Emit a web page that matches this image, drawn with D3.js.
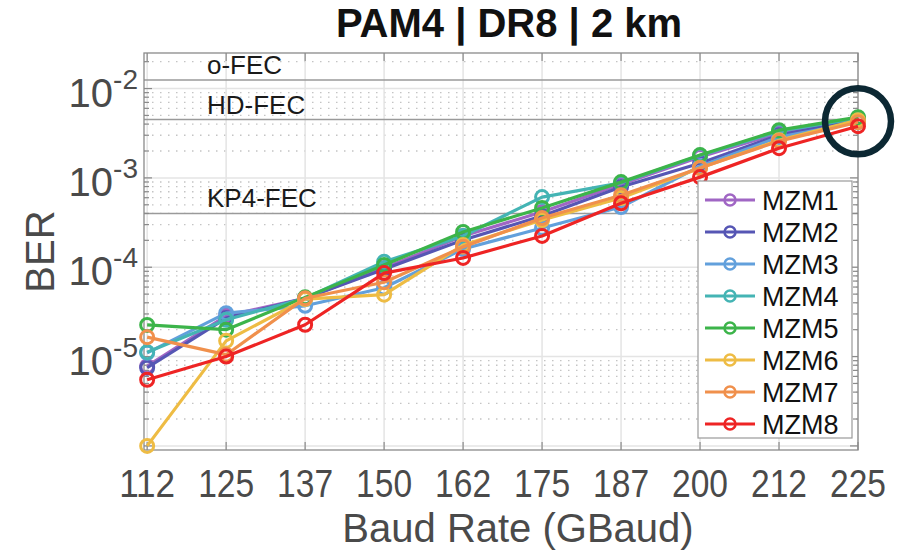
<!DOCTYPE html>
<html>
<head>
<meta charset="utf-8">
<script src="https://cdn.jsdelivr.net/npm/d3@7"></script>
<style>
  body { margin: 0; background: #fff; }
  svg { display: block; font-family: "Liberation Sans", Arial, sans-serif; }
</style>
</head>
<body>
<div id="chart"></div>
<script>
// baud rates (GBaud) and their tick labels
const baudRates = [112.5, 125, 137.5, 150, 162.5, 175, 187.5, 200, 212.5, 225];
const baudLabels = ["112", "125", "137", "150", "162", "175", "187", "200", "212", "225"];

// BER per modulator
const mzm1 = [7.8e-6, 2.86e-5, 4.5e-5, 9.8e-5, 2.24e-4, 4.15e-4, 8.5e-4, 1.71e-3, 3.17e-3, 4.54e-3];
const mzm2 = [7.5e-6, 2.7e-5, 4.5e-5, 9.5e-5, 2.02e-4, 3.74e-4, 7.9e-4, 1.46e-3, 3.01e-3, 4.43e-3];
const mzm3 = [1.1e-5, 3.06e-5, 3.7e-5, 5.9e-5, 1.6e-4, 2.75e-4, 4.72e-4, 1.35e-3, 2.86e-3, 4.2e-3];
const mzm4 = [1.12e-5, 2.58e-5, 4.5e-5, 1.15e-4, 2.24e-4, 6.1e-4, 8.8e-4, 1.78e-3, 3.33e-3, 4.66e-3];
const mzm5 = [2.26e-5, 2.0e-5, 4.6e-5, 1.06e-4, 2.48e-4, 4.6e-4, 8.97e-4, 1.8e-3, 3.42e-3, 4.78e-3];
const mzm6 = [1.0e-6, 1.5e-5, 4.4e-5, 4.93e-5, 1.77e-4, 3.38e-4, 5.95e-4, 1.29e-3, 2.64e-3, 4.43e-3];
const mzm7 = [1.65e-5, 1.05e-5, 4.5e-5, 6.8e-5, 1.69e-4, 3.55e-4, 6.4e-4, 1.29e-3, 2.58e-3, 4.2e-3];
const mzm8 = [5.5e-6, 1.0e-5, 2.27e-5, 8.6e-5, 1.27e-4, 2.24e-4, 5.2e-4, 1.02e-3, 2.15e-3, 3.79e-3];

const seriesNames = ["MZM1", "MZM2", "MZM3", "MZM4", "MZM5", "MZM6", "MZM7", "MZM8"];
const seriesValues = [mzm1, mzm2, mzm3, mzm4, mzm5, mzm6, mzm7, mzm8];
const seriesColors = ["#a066c4", "#5656b4", "#62a0dc", "#44b4b4", "#3cb44a", "#eebc44", "#f0904c", "#ee2424"];

// FEC thresholds
const fecNames = ["o-FEC", "HD-FEC", "KP4-FEC"];
const fecLevels = [1.25e-2, 4.5e-3, 4e-4];

const yExponents = [-2, -3, -4, -5];

const width = 910, height = 552;
const margin = { top: 53, right: 52, bottom: 102, left: 144 };

const svg = d3.select("#chart").append("svg")
  .attr("width", width)
  .attr("height", height);

const x = d3.scaleLinear().domain([112, 225]).range([margin.left, width - margin.right]);
const y = d3.scaleLog().domain([9e-7, 2.5e-2]).range([height - margin.bottom, margin.top]);

const x0 = margin.left, x1 = width - margin.right;
const y0 = height - margin.bottom, y1 = margin.top;

// minor dotted grid
const minorVals = [];
for (let e = -7; e <= -2; e++) {
  for (let k = 2; k <= 9; k++) {
    const v = k * Math.pow(10, e);
    if (v > y.domain()[0] && v < y.domain()[1]) minorVals.push(v);
  }
}
svg.append("g").selectAll("line").data(minorVals).enter().append("line")
  .attr("x1", x0).attr("x2", x1)
  .attr("y1", d => y(d)).attr("y2", d => y(d))
  .attr("stroke", "#c4c4c4").attr("stroke-width", 1.3)
  .attr("stroke-dasharray", "1.5,6.5");

// major grid
const grid = svg.append("g").attr("stroke", "#e4e4e4").attr("stroke-width", 1.5);
grid.selectAll(".gx").data(baudRates).enter().append("line")
  .attr("x1", d => x(d)).attr("x2", d => x(d))
  .attr("y1", y1).attr("y2", y0);
grid.selectAll(".gy").data(yExponents.concat([-6])).enter().append("line")
  .attr("x1", x0).attr("x2", x1)
  .attr("y1", d => y(Math.pow(10, d))).attr("y2", d => y(Math.pow(10, d)));

// FEC threshold lines
svg.append("g").selectAll("line").data(fecLevels).enter().append("line")
  .attr("x1", x0).attr("x2", x1)
  .attr("y1", d => y(d)).attr("y2", d => y(d))
  .attr("stroke", "#9a9a9a").attr("stroke-width", 1.5);

svg.append("g").selectAll("text").data(fecNames).enter().append("text")
  .attr("x", 207)
  .attr("y", (d, i) => y(fecLevels[i]) - 6)
  .attr("font-size", 26)
  .attr("fill", "#1a1a1a")
  .text(d => d);

// ticks
const ticks = svg.append("g").attr("stroke", "#8a8a8a").attr("stroke-width", 1.2);
baudRates.forEach(b => {
  ticks.append("line").attr("x1", x(b)).attr("x2", x(b)).attr("y1", y0).attr("y2", y0 - 8);
  ticks.append("line").attr("x1", x(b)).attr("x2", x(b)).attr("y1", y1).attr("y2", y1 + 8);
});
yExponents.concat([-6]).forEach(e => {
  const yy = y(Math.pow(10, e));
  ticks.append("line").attr("x1", x0).attr("x2", x0 + 8).attr("y1", yy).attr("y2", yy);
  ticks.append("line").attr("x1", x1).attr("x2", x1 - 8).attr("y1", yy).attr("y2", yy);
});
minorVals.forEach(v => {
  ticks.append("line").attr("x1", x0).attr("x2", x0 + 5).attr("y1", y(v)).attr("y2", y(v));
  ticks.append("line").attr("x1", x1).attr("x2", x1 - 5).attr("y1", y(v)).attr("y2", y(v));
});

// axes box
svg.append("rect")
  .attr("x", x0).attr("y", y1)
  .attr("width", x1 - x0).attr("height", y0 - y1)
  .attr("fill", "none").attr("stroke", "#8a8a8a").attr("stroke-width", 1.3);

// x tick labels (narrow, as in the source)
svg.append("g").selectAll("text").data(baudRates).enter().append("text")
  .attr("x", d => x(d) - 28)
  .attr("y", 497)
  .attr("font-size", 38)
  .attr("fill", "#4a4a4a")
  .attr("textLength", 56)
  .attr("lengthAdjust", "spacingAndGlyphs")
  .text((d, i) => baudLabels[i]);

// y tick labels 10^e
const yl = svg.append("g").attr("fill", "#4a4a4a");
yExponents.forEach(e => {
  const t = yl.append("text")
    .attr("x", 138).attr("y", y(Math.pow(10, e)) + 18)
    .attr("text-anchor", "end")
    .attr("font-size", 40);
  t.append("tspan").text("10");
  t.append("tspan").attr("font-size", 28).attr("dy", -18).text("-" + Math.abs(e));
});

// axis titles
svg.append("text")
  .attr("x", 518).attr("y", 542)
  .attr("text-anchor", "middle")
  .attr("font-size", 40)
  .attr("fill", "#4a4a4a")
  .text("Baud Rate (GBaud)");

svg.append("text")
  .attr("transform", `translate(54,${(y0 + y1) / 2}) rotate(-90)`)
  .attr("text-anchor", "middle")
  .attr("font-size", 40)
  .attr("fill", "#4a4a4a")
  .text("BER");

svg.append("text")
  .attr("x", 509).attr("y", 37)
  .attr("text-anchor", "middle")
  .attr("font-size", 40)
  .attr("font-weight", "bold")
  .attr("fill", "#111")
  .text("PAM4 | DR8 | 2 km");

// series
const line = d3.line()
  .x((d, i) => x(baudRates[i]))
  .y(d => y(d));

const series = svg.append("g").selectAll("g").data(seriesValues).enter().append("g");
series.append("path")
  .attr("d", d => line(d))
  .attr("fill", "none")
  .attr("stroke", (d, i) => seriesColors[i])
  .attr("stroke-width", 3.2)
  .attr("stroke-linejoin", "round");
series.each(function (vals, si) {
  d3.select(this).selectAll("circle").data(vals).enter().append("circle")
    .attr("cx", (d, i) => x(baudRates[i]))
    .attr("cy", d => y(d))
    .attr("r", 6.5)
    .attr("fill", "none")
    .attr("stroke", seriesColors[si])
    .attr("stroke-width", 3);
});

// highlight ring at the last point
svg.append("circle")
  .attr("cx", x(225))
  .attr("cy", y(4.3e-3))
  .attr("r", 33)
  .attr("fill", "none")
  .attr("stroke", "#0c2833")
  .attr("stroke-width", 6.5);

// legend
const legend = svg.append("g");
legend.append("rect")
  .attr("x", 698).attr("y", 181)
  .attr("width", 154).attr("height", 257)
  .attr("fill", "#fff").attr("stroke", "#9a9a9a").attr("stroke-width", 1.2);
seriesNames.forEach((name, i) => {
  const ly = 200 + i * 32;
  legend.append("line")
    .attr("x1", 705).attr("x2", 755).attr("y1", ly).attr("y2", ly)
    .attr("stroke", seriesColors[i]).attr("stroke-width", 3.2);
  legend.append("circle")
    .attr("cx", 730).attr("cy", ly).attr("r", 5.5)
    .attr("fill", "none").attr("stroke", seriesColors[i]).attr("stroke-width", 2.5);
  legend.append("text")
    .attr("x", 762).attr("y", ly + 10)
    .attr("font-size", 27)
    .attr("fill", "#111")
    .text(name);
});
</script>
</body>
</html>
